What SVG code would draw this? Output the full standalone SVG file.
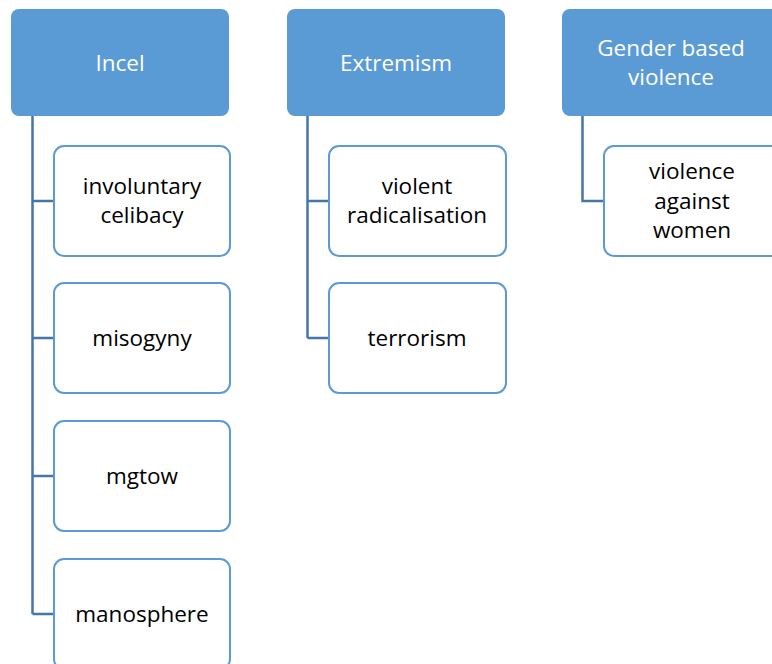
<svg xmlns="http://www.w3.org/2000/svg" width="772" height="664" viewBox="0 0 772 664">
<style>
.hdr{fill:#5b9bd5;}
.hdr-t{fill:#ffffff;font-family:"Open Sans","Liberation Sans",sans-serif;font-size:22.5px;text-anchor:middle;dominant-baseline:central;}
.ch{fill:#ffffff;stroke:#5b9bd5;stroke-width:2;}
.ch-t{fill:#000000;font-family:"Open Sans","Liberation Sans",sans-serif;font-size:22.5px;text-anchor:middle;dominant-baseline:central;}
.con{fill:none;stroke:#4576a8;stroke-width:2.5;}
</style>
<rect width="772" height="664" fill="#ffffff"/>
<g id="connectors">
<path class="con" d="M32.5,116 V614 M32.5,201 H54 M32.5,338 H54 M32.5,476 H54 M32.5,614 H54"/>
<path class="con" d="M307.5,116 V338 M307.5,201 H329 M307.5,338 H329"/>
<path class="con" d="M582.5,116 V201 H604"/>
</g>
<g id="incel"><rect class="hdr" x="11" y="9" width="218" height="107" rx="8"/><text class="hdr-t" x="120" y="62">Incel</text></g>
<g id="extremism"><rect class="hdr" x="287" y="9" width="218" height="107" rx="8"/><text class="hdr-t" x="396" y="62">Extremism</text></g>
<g id="gbv"><rect class="hdr" x="562" y="9" width="218" height="107" rx="8"/><text class="hdr-t" x="671" y="47">Gender based</text><text class="hdr-t" x="671" y="76">violence</text></g>
<g id="involuntary"><rect class="ch" x="54" y="146" width="176" height="110" rx="10"/><text class="ch-t" x="142" y="185">involuntary</text><text class="ch-t" x="142" y="214">celibacy</text></g>
<g id="misogyny"><rect class="ch" x="54" y="283" width="176" height="110" rx="10"/><text class="ch-t" x="142" y="337">misogyny</text></g>
<g id="mgtow"><rect class="ch" x="54" y="421" width="176" height="110" rx="10"/><text class="ch-t" x="142" y="475">mgtow</text></g>
<g id="manosphere"><rect class="ch" x="54" y="559" width="176" height="110" rx="10"/><text class="ch-t" x="142" y="613">manosphere</text></g>
<g id="violent-rad"><rect class="ch" x="329" y="146" width="177" height="110" rx="10"/><text class="ch-t" x="417" y="185">violent</text><text class="ch-t" x="417" y="214">radicalisation</text></g>
<g id="terrorism"><rect class="ch" x="329" y="283" width="177" height="110" rx="10"/><text class="ch-t" x="417" y="337">terrorism</text></g>
<g id="vaw"><rect class="ch" x="604" y="146" width="177" height="110" rx="10"/><text class="ch-t" x="692" y="170">violence</text><text class="ch-t" x="692" y="200">against</text><text class="ch-t" x="692" y="229">women</text></g>
</svg>
